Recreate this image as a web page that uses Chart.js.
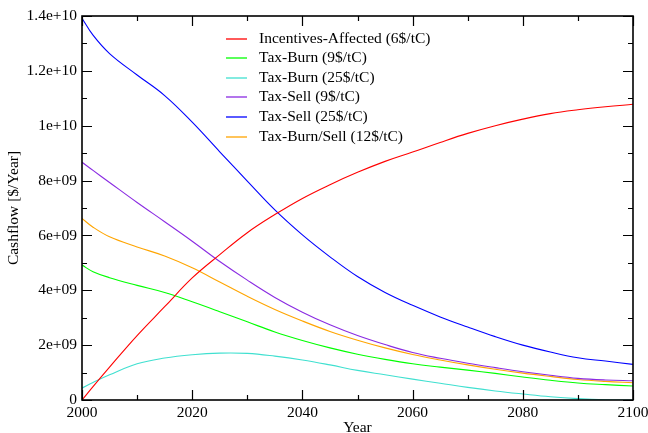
<!DOCTYPE html>
<html><head><meta charset="utf-8">
<script src="https://cdn.jsdelivr.net/npm/chart.js@4/dist/chart.umd.min.js"></script>
<style>html,body{margin:0;padding:0;background:#fff}#wrap{width:648px;height:433px;position:relative}</style>
</head><body><div id="wrap"><canvas id="c"></canvas></div>
<script>
const years = [2000,2002,2005,2010,2015,2020,2025,2030,2035,2040,2045,2050,2055,2060,2065,2070,2075,2080,2085,2090,2095,2100];
const seriesNames = ['Incentives-Affected (6$/tC)','Tax-Burn (9$/tC)','Tax-Burn (25$/tC)','Tax-Sell (9$/tC)','Tax-Sell (25$/tC)','Tax-Burn/Sell (12$/tC)'];
const incentivesAffected6 = [0,0.49e9,1.2e9,2.35e9,3.4e9,4.45e9,5.3e9,6.1e9,6.76e9,7.35e9,7.85e9,8.3e9,8.7e9,9.04e9,9.39e9,9.72e9,10.0e9,10.24e9,10.44e9,10.58e9,10.69e9,10.78e9];
const taxBurn9 = [4.92e9,4.68e9,4.46e9,4.18e9,3.92e9,3.58e9,3.22e9,2.85e9,2.48e9,2.17e9,1.9e9,1.67e9,1.48e9,1.32e9,1.2e9,1.09e9,0.97e9,0.84e9,0.72e9,0.62e9,0.56e9,0.51e9];
const taxBurn25 = [0.43e9,0.64e9,0.92e9,1.32e9,1.53e9,1.65e9,1.71e9,1.70e9,1.6e9,1.46e9,1.28e9,1.08e9,0.92e9,0.76e9,0.61e9,0.46e9,0.33e9,0.22e9,0.12e9,0.05e9,0.01e9,0];
const taxSell9 = [8.67e9,8.37e9,7.93e9,7.2e9,6.5e9,5.79e9,5.05e9,4.37e9,3.74e9,3.2e9,2.74e9,2.35e9,2.02e9,1.73e9,1.52e9,1.34e9,1.18e9,1.03e9,0.9e9,0.79e9,0.73e9,0.70e9];
const taxSell25 = [13.92e9,13.3e9,12.63e9,11.85e9,11.1e9,10.13e9,9.05e9,7.98e9,6.93e9,6.02e9,5.22e9,4.5e9,3.92e9,3.45e9,3.03e9,2.66e9,2.31e9,2.0e9,1.75e9,1.54e9,1.42e9,1.3e9];
const taxBurnSell12 = [6.62e9,6.3e9,5.95e9,5.58e9,5.25e9,4.82e9,4.3e9,3.78e9,3.3e9,2.88e9,2.5e9,2.18e9,1.9e9,1.66e9,1.46e9,1.28e9,1.12e9,0.98e9,0.86e9,0.75e9,0.68e9,0.63e9];
const xTickValues = [2000,2020,2040,2060,2080,2100];
const xTickLabels = ['2000','2020','2040','2060','2080','2100'];
const yTickValues = [0,2e9,4e9,6e9,8e9,1e10,1.2e10,1.4e10];
const yTickLabels = ['0','2e+09','4e+09','6e+09','8e+09','1e+10','1.2e+10','1.4e+10'];

const colors = ['#ff0000','#00ff00','#40e0d0','#8a2be2','#0000ff','#ffa500'];
const seriesValues = [incentivesAffected6,taxBurn9,taxBurn25,taxSell9,taxSell25,taxBurnSell12];
const FONT = "'Liberation Serif','Times New Roman',serif";
const FS = 15.5;

const datasets = seriesValues.map((vals,i)=>({
  label: seriesNames[i],
  data: years.map((yr,j)=>({x:yr,y:vals[j]})),
  borderColor: colors[i], backgroundColor: colors[i],
  borderWidth: 1.1, pointRadius: 0, fill: false,
  tension: 0.4
}));

const frameTicks = {
  id:'frameTicks',
  afterDatasetsDraw(chart){
    const {ctx, chartArea:a, scales:{x,y}} = chart;
    ctx.save();
    ctx.strokeStyle='#000';
    ctx.lineWidth=1.2;
    ctx.beginPath();
    const xs = x.ticks.map(t=>t.value);
    const ys = y.ticks.map(t=>t.value);
    const drawX=(v,len)=>{const p=Math.round(x.getPixelForValue(v))+0.5;ctx.moveTo(p,a.bottom);ctx.lineTo(p,a.bottom-len);ctx.moveTo(p,a.top);ctx.lineTo(p,a.top+len);};
    const drawY=(v,len)=>{const p=Math.round(y.getPixelForValue(v))+0.5;ctx.moveTo(a.left,p);ctx.lineTo(a.left+len,p);ctx.moveTo(a.right,p);ctx.lineTo(a.right-len,p);};
    xs.forEach((v,i)=>{drawX(v,10); if(i<xs.length-1) drawX((v+xs[i+1])/2,5);});
    ys.forEach((v,i)=>{drawY(v,10); if(i<ys.length-1) drawY((v+ys[i+1])/2,5);});
    ctx.stroke();
    ctx.lineWidth=1.6;
    ctx.strokeRect(a.left,a.top,a.right-a.left,a.bottom-a.top);
    // legend
    ctx.font = FS + "px " + FONT;
    ctx.textBaseline='middle';
    ctx.textAlign='left';
    seriesNames.forEach((name,i)=>{
      const ry = 38.5 + i*19.6;
      ctx.strokeStyle=colors[i]; ctx.lineWidth=1.3;
      ctx.beginPath(); ctx.moveTo(226,Math.round(ry)); ctx.lineTo(247,Math.round(ry)); ctx.stroke();
      ctx.fillStyle='#000';
      ctx.fillText(name,259,ry);
    });
    ctx.restore();
  }
};

new Chart(document.getElementById('c'),{
  type:'line',
  data:{datasets},
  plugins:[frameTicks],
  options:{
    responsive:true, maintainAspectRatio:false, animation:false,
    layout:{padding:{left:0,right:0,top:16,bottom:0}},
    plugins:{legend:{display:false},tooltip:{enabled:false}},
    scales:{
      x:{type:'linear',min:2000,max:2100,
        afterBuildTicks(s){s.ticks = xTickValues.map(v=>({value:v}));},
        afterFit(s){s.height=33; s.paddingRight=15; s.paddingLeft=0;},
        grid:{display:false,drawTicks:false},
        border:{display:false},
        ticks:{autoSkip:false,maxRotation:0,padding:4,color:'#000',font:{family:FONT,size:FS},
          callback:(v)=>{const k=xTickValues.indexOf(v);return k>=0?xTickLabels[k]:'';}},
        title:{display:true,text:'Year',color:'#000',font:{family:FONT,size:FS,lineHeight:1},padding:{top:0,bottom:-3}}
      },
      y:{type:'linear',min:0,max:1.4e10,
        afterBuildTicks(s){s.ticks = yTickValues.map(v=>({value:v}));},
        afterFit(s){s.width=82;},
        grid:{display:false,drawTicks:false},
        border:{display:false},
        ticks:{autoSkip:false,padding:5,color:'#000',font:{family:FONT,size:FS},
          callback:(v)=>{const k=yTickValues.indexOf(v);return k>=0?yTickLabels[k]:'';}},
        title:{display:true,text:'Cashflow [$/Year]',color:'#000',font:{family:FONT,size:FS,lineHeight:1},padding:{top:6.5,bottom:0}}
      }
    }
  }
});
</script></body></html>
